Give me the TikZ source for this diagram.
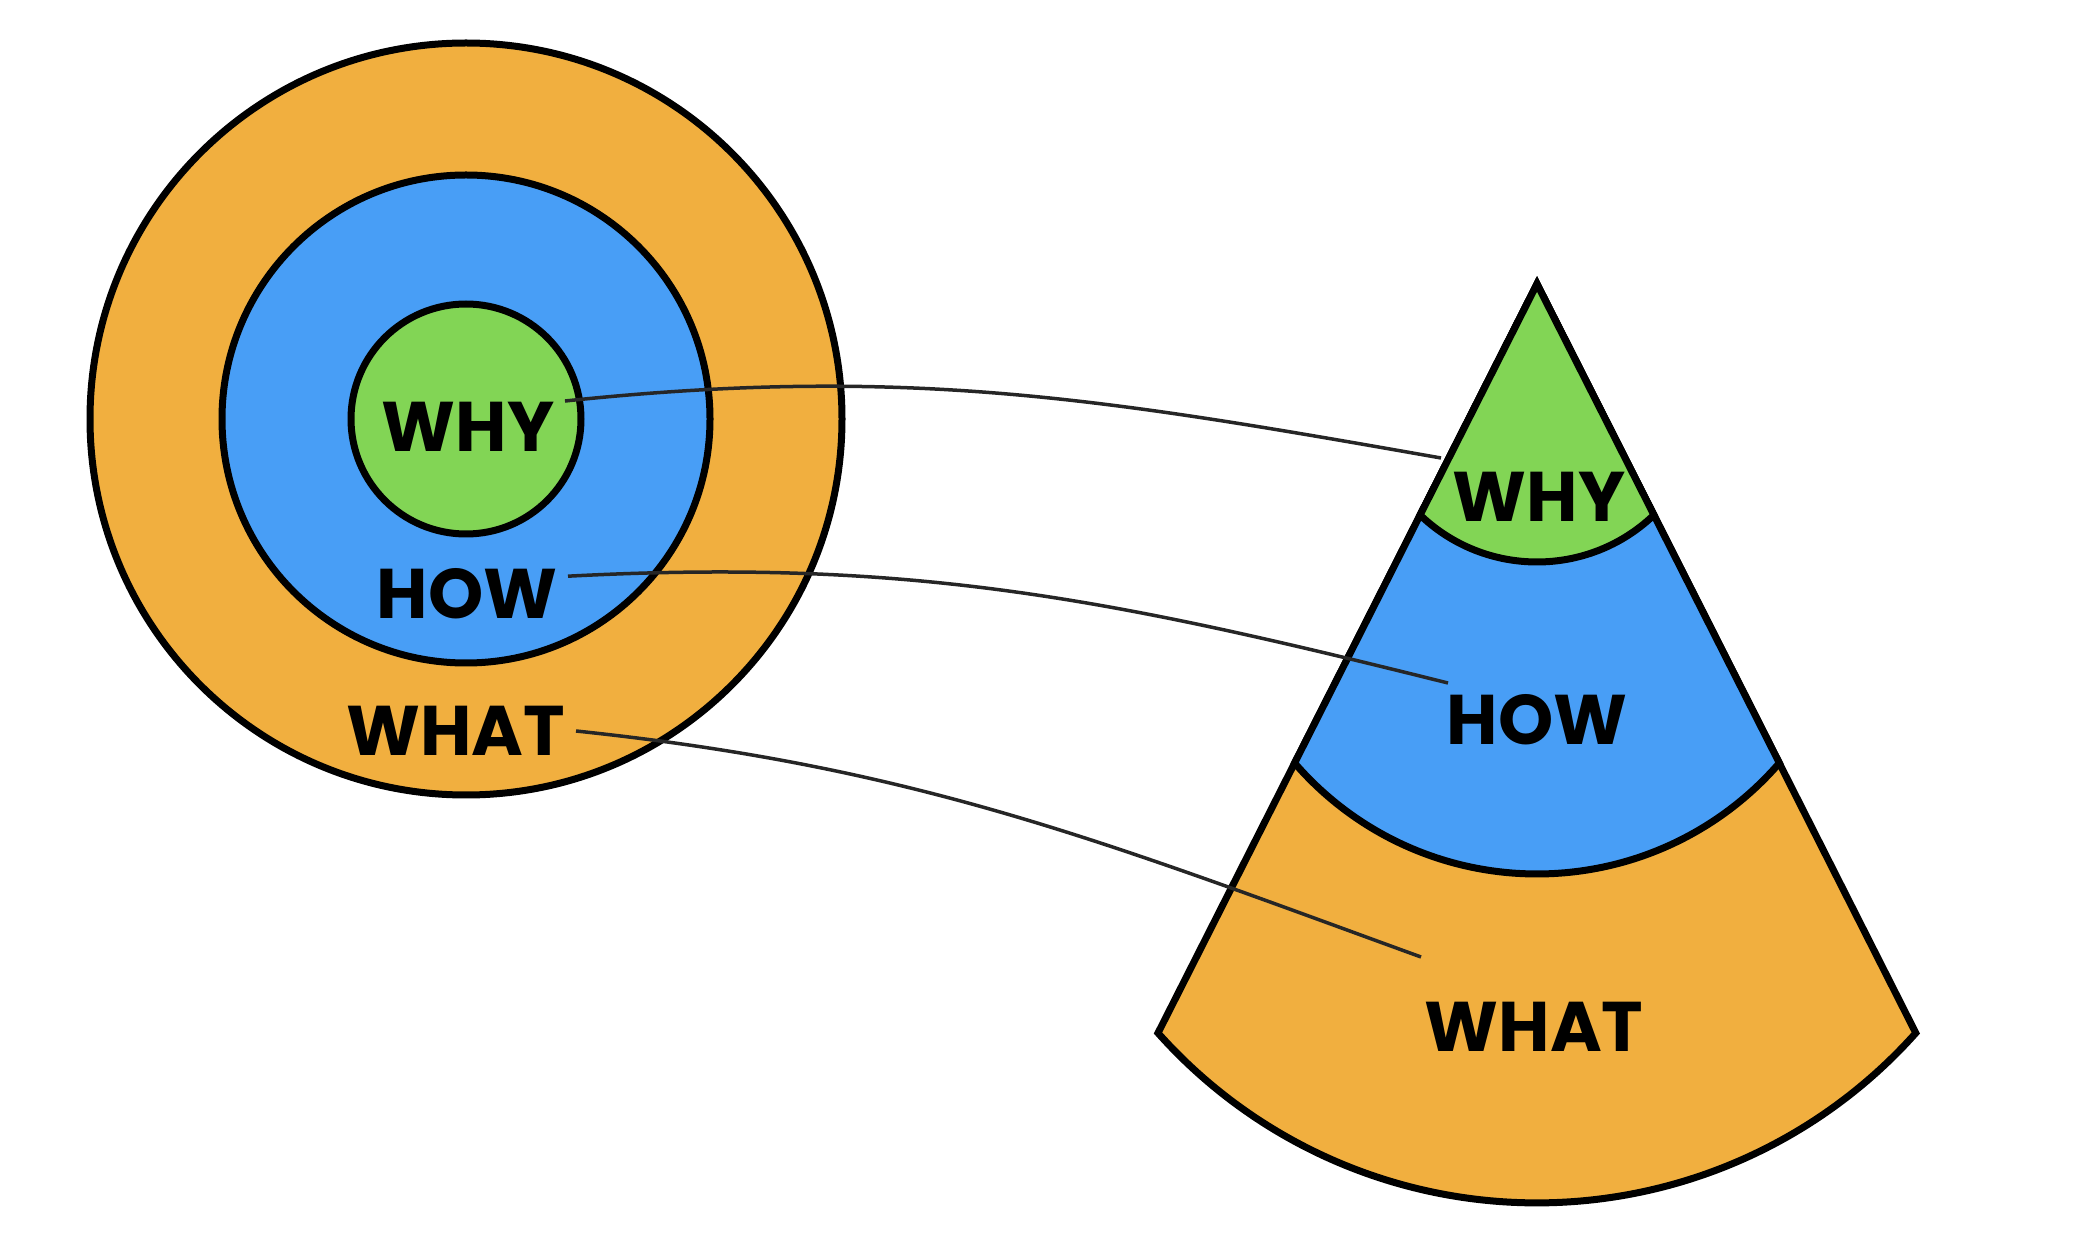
\documentclass[tikz,border=0pt]{standalone}
\usepackage{fontspec}
\setmainfont{Poppins}
\usepackage{tikz}
\usetikzlibrary{calc}

\definecolor{whatorange}{HTML}{F1AF3F}
\definecolor{howblue}{HTML}{489EF6}
\definecolor{whygreen}{HTML}{82D555}

\tikzset{
	ring/.style={draw=black, line width=0.7mm},
	word/.style={font=\fontsize{20}{24}\selectfont\bfseries, inner sep=0.1cm},
	link/.style={line width=0.35mm, color=black!85},
}

\begin{document}
\begin{tikzpicture}
		%%%%% START %%%%%
		\useasboundingbox (0, 0) rectangle (20.92, 12.52);
		
		% golden circle
		\draw[ring, fill=whatorange] (4.66, 8.33) circle (3.76);
		\draw[ring, fill=howblue] (4.66, 8.33) circle (2.44);
		\draw[ring, fill=whygreen] (4.66, 8.33) circle (1.15);
		
		\node[word] (whyL) at (4.68, 8.25) {WHY};
		\node[word] (howL) at (4.67, 6.58) {HOW};
		\node[word] (whatL) at (4.56, 5.21) {WHAT};
		
		% cone
		\coordinate (apex) at (15.37, 9.68);
		\draw[ring, fill=whatorange] (apex) -- (11.58, 2.19) arc (221.7:318.3:5.075) -- cycle;
		\draw[ring, fill=howblue] (apex) -- (12.946, 4.89) arc (220.8:319.2:3.202) -- cycle;
		\draw[ring, fill=whygreen] (apex) -- (14.201, 7.37) arc (226.2:313.8:1.689) -- cycle;
		
		\node[word] (whyR) at (15.39, 7.55) {WHY};
		\node[word] (howR) at (15.37, 5.32) {HOW};
		\node[word] (whatR) at (15.34, 2.25) {WHAT};
		
		% links
		\coordinate (whyEnd) at (14.41, 7.94);
		\coordinate (howEnd) at (14.48, 5.69);
		\coordinate (whatEnd) at (14.21, 2.95);
		
		\draw[link] (whyL.15) to[out=6, in=170] (whyEnd);
		\draw[link] (howL.10) to[out=3, in=166] (howEnd);
		\draw[link] (whatL.east) to[out=-6, in=160] (whatEnd);
		
		%%%%% END %%%%%
	\end{tikzpicture}
\end{document}
